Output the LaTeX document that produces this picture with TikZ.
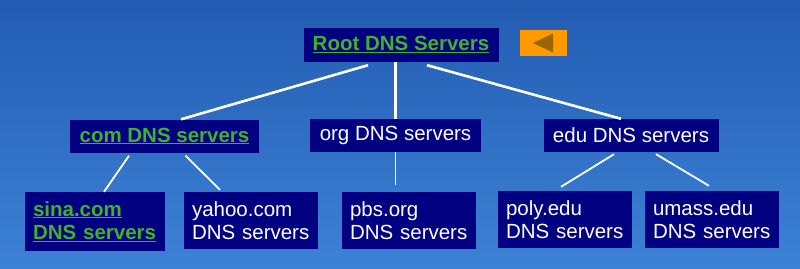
\documentclass[tikz,border=0pt]{standalone}
\usepackage{fontspec}
\setmainfont{Liberation Sans}

\definecolor{DnsNavy}{RGB}{0, 0, 128}
\definecolor{DnsGreen}{RGB}{64, 178, 44}
\definecolor{BackOrange}{RGB}{255, 153, 0}
\definecolor{BackArrow}{RGB}{153, 102, 0}
\definecolor{SlideTop}{RGB}{34, 92, 178}
\definecolor{SlideBottom}{RGB}{60, 130, 214}

% green, underlined names
\newcommand\hot[1]{\textcolor{DnsGreen}{\bfseries\underline{#1}}}

\tikzset{
  dns/.style={fill=DnsNavy, text=white, inner xsep=8pt, inner ysep=0pt,
    font=\fontsize{20.5}{23.5}\selectfont},
  tld/.style={dns, minimum height=33pt},
  leaf/.style={dns, text width=118pt, align=left, minimum height=57pt},
  wire/.style={white, line width=2.6pt},
  twig/.style={white, line width=1.8pt},
}

\begin{document}
\begin{tikzpicture}[x=1pt, y=-1pt]
\shade[top color=SlideTop, bottom color=SlideBottom] (0,0) rectangle (800,268);
\useasboundingbox (0,0) rectangle (800,268);

% root and back button
\node[tld, minimum width=195pt, minimum height=34pt] (root) at (401,44.5) {\hot{Root DNS Servers}};
\node[fill=BackOrange, minimum width=47pt, minimum height=26pt, inner sep=0pt] (back) at (543.5,43) {};
\fill[BackArrow] ([xshift=-10.5pt]back.center) -- ([xshift=9.5pt,yshift=9.5pt]back.center)
  -- ([xshift=9.5pt,yshift=-9.5pt]back.center) -- cycle;

% top level domains
\node[tld, minimum width=189pt] (com) at (164.5,136) {\hot{com DNS servers}};
\node[tld, minimum width=171pt] (org) at (395.5,135.5) {org DNS servers};
\node[tld, minimum width=175pt] (edu) at (631,135.5) {edu DNS servers};

% authoritative servers
\node[leaf, text width=124pt, minimum height=59pt] (sina) at (95,221.5) {\hot{sina.com}\\\hot{DNS servers}};
\node[leaf] (yahoo) at (251,220.5) {yahoo.com\\DNS servers};
\node[leaf] (pbs) at (409,220.5) {pbs.org\\DNS servers};
\node[leaf] (poly) at (565,219.5) {poly.edu\\DNS servers};
\node[leaf] (umass) at (712,219.5) {umass.edu\\DNS servers};

\draw[wire] ([xshift=-33pt,yshift=-3.5pt]root.south) -- ([xshift=16.5pt]com.north);
\draw[wire] (org.north) -- (org.north |- root.south);
\draw[wire] ([xshift=26pt,yshift=-3.5pt]root.south) -- ([xshift=-10pt]edu.north);

\draw[twig] ([xshift=-35.5pt,yshift=-3pt]com.south) -- ([xshift=9pt]sina.north);
\draw[twig] ([xshift=21pt,yshift=-3pt]com.south) -- ([xshift=-31pt,yshift=2pt]yahoo.north);
\draw[twig, shorten >=7pt] (org.south) -- (pbs.north -| org.south);
\draw[twig] ([xshift=-17pt,yshift=-2pt]edu.south) -- ([xshift=-4pt,yshift=4pt]poly.north);
\draw[twig] ([xshift=25pt,yshift=-2pt]edu.south) -- ([xshift=-3pt,yshift=5pt]umass.north);
\end{tikzpicture}
\end{document}
